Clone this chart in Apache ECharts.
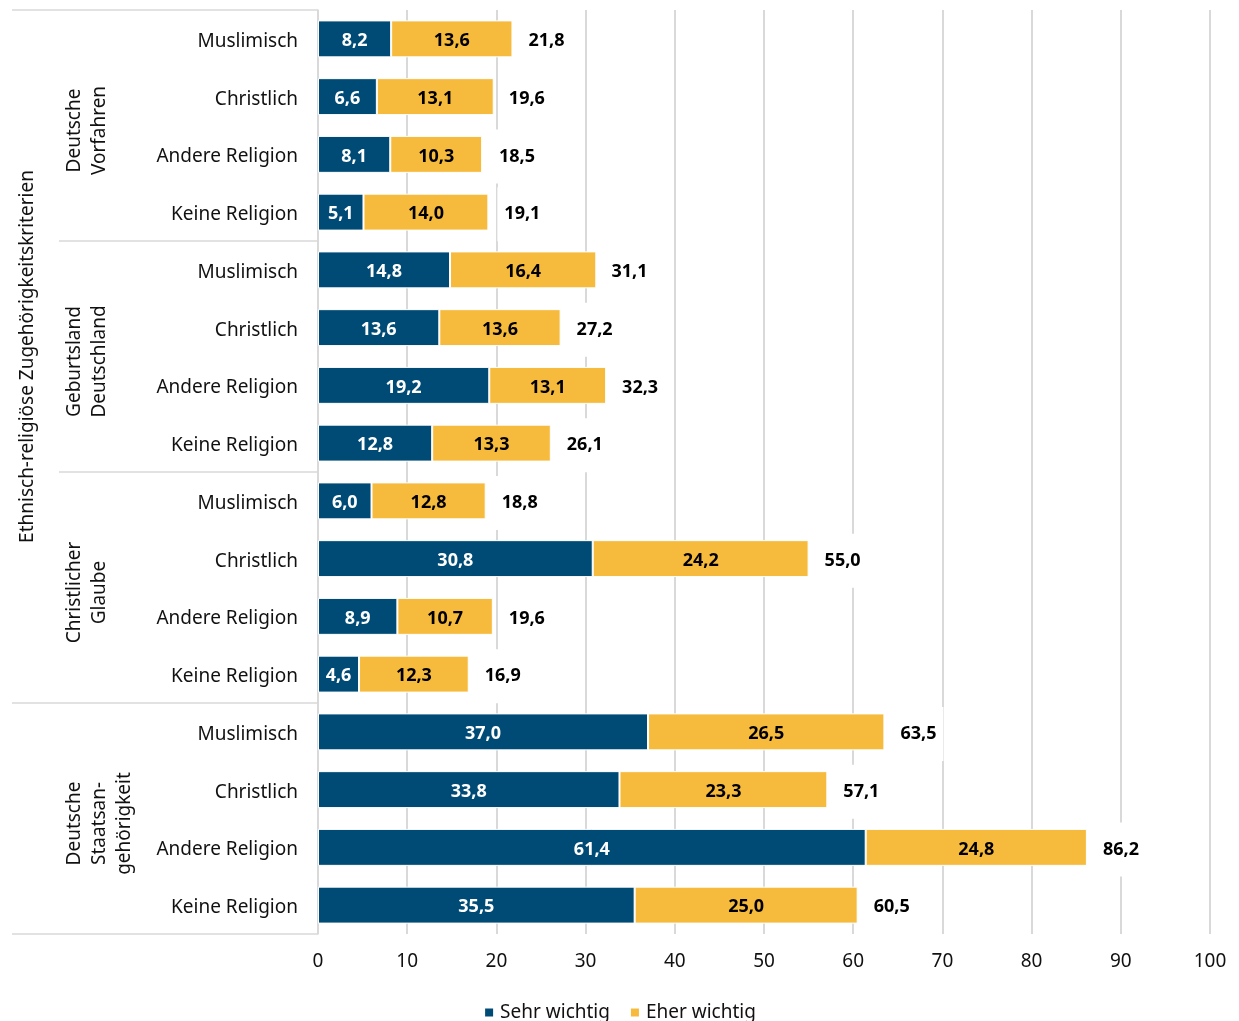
<!DOCTYPE html>
<html>
<head>
<meta charset="utf-8">
<script src="https://cdn.jsdelivr.net/npm/echarts@6/dist/echarts.min.js"></script>
<style>
html,body{margin:0;padding:0;background:#fff;}
#c{width:1239px;height:1021px;}
</style>
</head>
<body>
<div id="c"></div>
<script>
const categories = [
  "Muslimisch","Christlich","Andere Religion","Keine Religion",
  "Muslimisch","Christlich","Andere Religion","Keine Religion",
  "Muslimisch","Christlich","Andere Religion","Keine Religion",
  "Muslimisch","Christlich","Andere Religion","Keine Religion"
];
const groups = ["Deutsche\nVorfahren","Geburtsland\nDeutschland","Christlicher\nGlaube","Deutsche\nStaatsan-\ngehörigkeit"];
const outerTitle = "Ethnisch-religiöse Zugehörigkeitskriterien";
const sehrWichtig = [8.2,6.6,8.1,5.1, 14.8,13.6,19.2,12.8, 6.0,30.8,8.9,4.6, 37.0,33.8,61.4,35.5];
const eherWichtig = [13.6,13.1,10.3,14.0, 16.4,13.6,13.1,13.3, 12.8,24.2,10.7,12.3, 26.5,23.3,24.8,25.0];
const totals = [21.8,19.6,18.5,19.1, 31.1,27.2,32.3,26.1, 18.8,55.0,19.6,16.9, 63.5,57.1,86.2,60.5];
const xTicks = [0,10,20,30,40,50,60,70,80,90,100];
const seriesNames = ["Sehr wichtig","Eher wichtig"];

const FONT = "Noto Sans";
const BLUE = "#004B76", YELLOW = "#F6BB3D", GRID = "#D9D9D9";
const fmt = v => v.toFixed(1).replace('.', ',');
const catKeys = categories.map((c,i)=> i + "|" + c);

const chart = echarts.init(document.getElementById('c'));
const option = {
  animation: false,
  textStyle: {fontFamily: FONT},
  grid: {left: 318, right: 29, top: 10, bottom: 87, containLabel: false},
  legend: {
    data: seriesNames, top: 998, left: 'center',
    icon: 'rect', itemWidth: 10, itemHeight: 10, itemGap: 19,
    textStyle: {fontFamily: FONT, fontSize: 19, color: '#111', padding:[0,0,0,1]}
  },
  xAxis: {
    type: 'value', min: xTicks[0], max: xTicks[xTicks.length-1], interval: 10,
    axisLine: {show: false}, axisTick: {show: false},
    splitLine: {lineStyle: {color: GRID, width: 2}},
    axisLabel: {fontFamily: FONT, fontSize: 19, color: '#111', margin: 18}
  },
  yAxis: {
    type: 'category', inverse: true, data: catKeys,
    axisLine: {show: true, lineStyle: {color: GRID, width: 1.5}},
    axisTick: {show: false},
    axisLabel: {fontFamily: FONT, fontSize: 19, color: '#111', margin: 20,
      formatter: v => '{a|' + v.split('|')[1] + '}',
      rich: {a: {fontFamily: FONT, fontSize: 19, color: '#111', padding: [5,0,0,0]}}}
  },
  series: [
    {
      name: seriesNames[0], type: 'bar', stack: 's', data: sehrWichtig, barWidth: '64%',
      itemStyle: {color: BLUE, borderColor: '#fff', borderWidth: 1},
      label: {show: true, position: 'inside', color: '#fff', fontFamily: FONT, fontWeight: 'bold', fontSize: 18,
        offset: [0, 2], formatter: p => fmt(p.value)}
    },
    {
      name: seriesNames[1], type: 'bar', stack: 's', data: eherWichtig, barWidth: '64%',
      itemStyle: {color: YELLOW, borderColor: '#fff', borderWidth: 1},
      label: {show: true, position: 'inside', color: '#000', fontFamily: FONT, fontWeight: 'bold', fontSize: 18,
        offset: [0, 2], formatter: p => fmt(p.value)}
    },
    {
      name: 'Gesamt', type: 'scatter', symbolSize: 0, silent: true,
      data: totals.map((t,i)=>[t, catKeys[i]]),
      z: 5,
      itemStyle: {opacity: 1},
      label: {show: true, position: 'right', distance: 9, color: '#000', fontFamily: FONT, fontWeight: 'bold', fontSize: 18,
        backgroundColor: '#fff', padding: [18, 7], offset: [0, 2],
        formatter: p => fmt(p.value[0])}
    }
  ]
};
chart.setOption(option);

function drawAnnotations(){
  const cy = i => chart.convertToPixel({yAxisIndex: 0}, catKeys[i]);
  const step = cy(1) - cy(0);
  const x0 = chart.convertToPixel({xAxisIndex: 0}, 0);
  const bounds = [cy(0) - step/2, (cy(3)+cy(4))/2, (cy(7)+cy(8))/2, (cy(11)+cy(12))/2, cy(15) + step/2];
  const lineStarts = [12, 59, 59, 12, 12];
  const els = [];
  bounds.forEach((b, k) => {
    els.push({type: 'line', shape: {x1: lineStarts[k], y1: b, x2: x0, y2: b},
      style: {stroke: GRID, lineWidth: 1.5}, silent: true});
  });
  const gx = [87, 87, 87, 100];
  groups.forEach((g, k) => {
    els.push({type: 'text', x: gx[k], y: (bounds[k] + bounds[k+1]) / 2 + 5, rotation: Math.PI/2,
      style: {text: g, fontFamily: FONT, fontSize: 19, fill: '#111', align: 'center', verticalAlign: 'middle', lineHeight: 25},
      silent: true});
  });
  els.push({type: 'text', x: 28, y: (bounds[0] + bounds[3]) / 2, rotation: Math.PI/2,
    style: {text: outerTitle, fontFamily: FONT, fontSize: 19, fill: '#111', align: 'center', verticalAlign: 'middle'},
    silent: true});
  chart.setOption({graphic: {elements: els}});
}
drawAnnotations();
</script>
</body>
</html>
